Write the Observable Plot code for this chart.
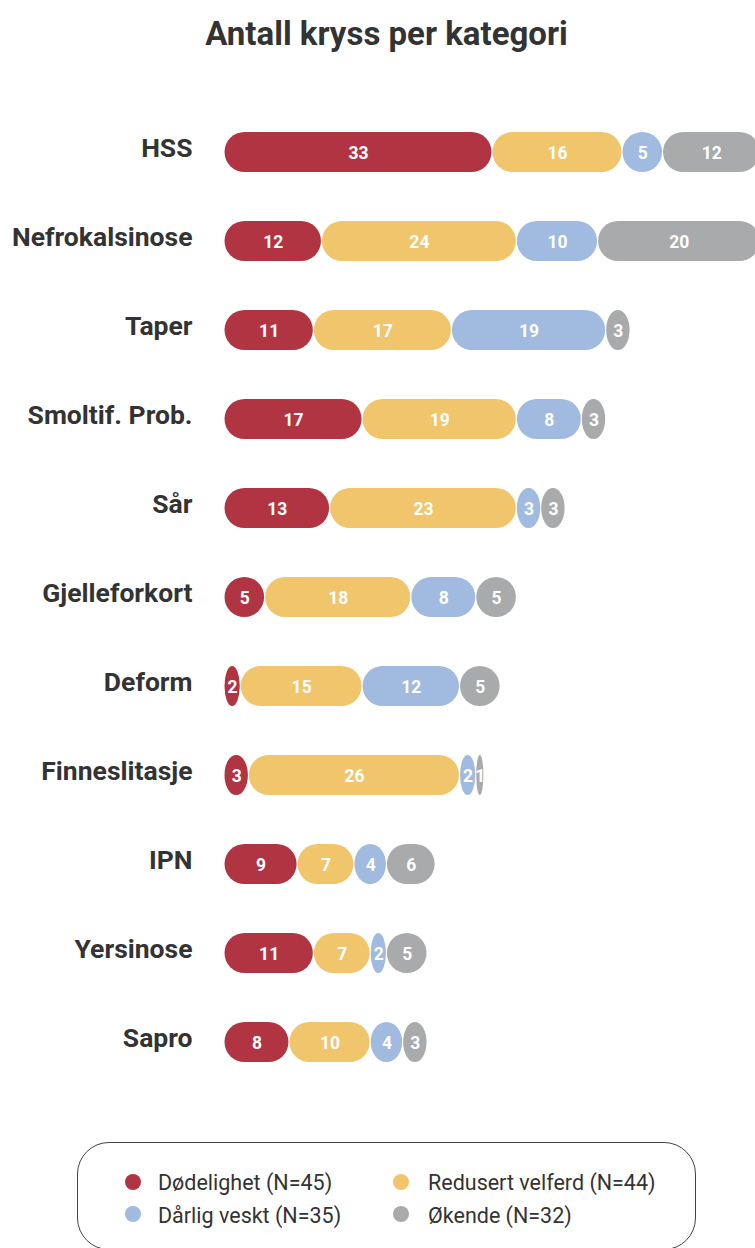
<!DOCTYPE html>
<html>
<head>
<meta charset="utf-8">
<script src="https://cdn.jsdelivr.net/npm/d3@7"></script>
<script src="https://cdn.jsdelivr.net/npm/@observablehq/plot@0.6"></script>
<style>
  html, body { margin: 0; padding: 0; background: #fff; overflow: hidden; width: 755px; height: 1248px; }
  body { position: relative; font-family: Roboto, "Noto Sans", sans-serif; color: #333; }
  #title { position: absolute; left: 0; top: 16.5px; width: 755px; text-align: center;
           font-weight: 700; font-size: 33px; line-height: 33px; color: #333; padding-left: 18px; box-sizing: border-box; }
  #chart { position: absolute; left: 0; top: 70px; }
  #legend { position: absolute; left: 77px; top: 1142px; width: 619px; height: 108px; border: 1px solid #444;
            border-radius: 32px; box-sizing: border-box; }
  .item { position: absolute; font-size: 21.5px; color: #333; line-height: 21.5px; white-space: nowrap; }
  .dot { position: absolute; width: 16px; height: 16px; border-radius: 50%; }
</style>
</head>
<body>
<div id="title">Antall kryss per kategori</div>
<div id="chart"></div>
<div id="legend"></div>
<script>
const categories = ["HSS", "Nefrokalsinose", "Taper", "Smoltif. Prob.", "Sår", "Gjelleforkort", "Deform", "Finneslitasje", "IPN", "Yersinose", "Sapro"];
const series = ["Dødelighet", "Redusert velferd", "Dårlig veskt", "Økende"];
const seriesN = [45, 44, 35, 32];
const colors = ["#B03442", "#F0C56C", "#A0BAE0", "#A8AAAB"];
const dodelighet      = [33, 12, 11, 17, 13, 5, 2, 3, 9, 11, 8];
const redusertVelferd = [16, 24, 17, 19, 23, 18, 15, 26, 7, 7, 10];
const darligVekst     = [5, 10, 19, 8, 3, 8, 12, 2, 4, 2, 4];
const okende          = [12, 20, 3, 3, 3, 5, 5, 1, 6, 5, 3];

const seriesValues = [dodelighet, redusertVelferd, darligVekst, okende];
const data = [];
categories.forEach((c, i) => {
  series.forEach((s, j) => data.push({cat: c, series: s, value: seriesValues[j][i]}));
});

const plot = Plot.plot({
  width: 755,
  height: 1041,
  marginTop: 13,
  marginBottom: 0,
  marginLeft: 224,
  marginRight: 0,
  style: {fontFamily: "Roboto, sans-serif", overflow: "hidden", background: "transparent"},
  x: {domain: [0, 66], range: [224, 760], axis: null},
  y: {domain: categories, padding: 0.55, axis: null},
  color: {domain: series, range: colors},
  marks: [
    Plot.barX(data, Plot.stackX({x: "value", y: "cat", fill: "series", rx: 20, insetLeft: 0.5, insetRight: 0.5})),
    Plot.text(data, Plot.stackX({x: "value", y: "cat", text: d => String(d.value), fill: "white", fontSize: 17.5, fontWeight: "bold", dy: 1})),
    Plot.text(categories, {x: () => 0, y: d => d, text: d => d, textAnchor: "end", dx: -32, dy: -3.5, fontSize: 26.5, fontWeight: "bold", fill: "#333"})
  ]
});
document.getElementById("chart").appendChild(plot);

const legend = document.getElementById("legend");
// [dot center x, dot center y, text left, text top] relative to legend box interior
const pos = [[55, 38.5, 80, 29], [323, 38.5, 350, 29], [55, 71, 80, 62], [323, 71, 350, 62]];
series.forEach((s, k) => {
  const [cx, cy, tx, ty] = pos[k];
  const dot = document.createElement("div");
  dot.className = "dot";
  dot.style.background = colors[k];
  dot.style.left = (cx - 8) + "px";
  dot.style.top = (cy - 8) + "px";
  legend.appendChild(dot);
  const t = document.createElement("div");
  t.className = "item";
  t.textContent = `${s} (N=${seriesN[k]})`;
  t.style.left = tx + "px";
  t.style.top = ty + "px";
  legend.appendChild(t);
});
</script>
</body>
</html>
